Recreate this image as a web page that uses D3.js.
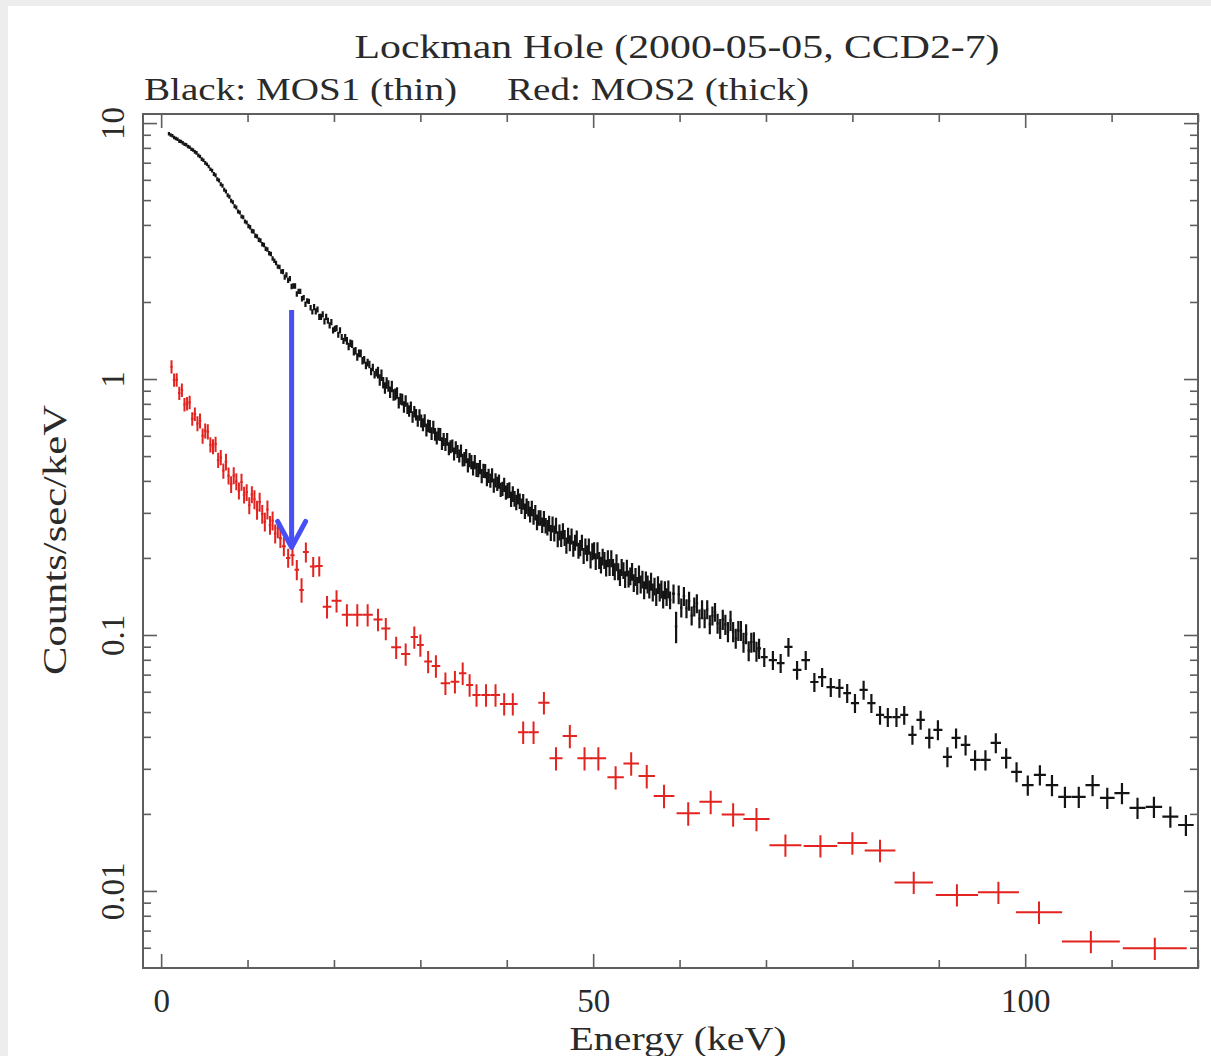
<!DOCTYPE html>
<html>
<head>
<meta charset="utf-8">
<script src="https://cdn.jsdelivr.net/npm/d3@7"></script>
<style>
  html, body { margin: 0; padding: 0; background: #ededed; }
  svg { display: block; }
</style>
</head>
<body>
<svg id="chart" width="1211" height="1056"></svg>
<script>
// MOS1 (thin filter): bin centres in keV
const mos1Energy = [
  0.9,1.1,1.3,1.5,1.7,1.9,2.1,2.3,2.5,2.7,2.9,3.1,3.3,3.5,3.7,3.9,4.1,4.3,4.5,4.7,4.9,5.1,5.3,5.5,5.7,5.9,6.1,6.3,6.5,6.7,6.9,7.1,7.3,7.5,7.7,7.9,
  8.1,8.3,8.5,8.7,8.9,9.1,9.3,9.5,9.7,9.9,10.1,10.3,10.5,10.7,10.9,11.1,11.3,11.5,11.7,11.9,12.1,12.3,12.5,12.7,12.9,13.1,13.3,13.5,13.7,13.9,
  14.1,14.3,14.5,14.7,14.9,15.1,15.3,15.5,15.7,15.9,16.1,16.3,16.5,16.7,16.9,17.1,17.3,17.5,17.7,17.9,18.1,18.3,18.5,18.7,18.9,19.1,19.3,19.5,19.7,19.9,
  20.1,20.3,20.5,20.7,20.9,21.1,21.3,21.5,21.7,21.9,22.1,22.3,22.5,22.7,22.9,23.1,23.3,23.5,23.7,23.9,24.1,24.3,24.5,24.7,24.9,
  25.1,25.3,25.5,25.7,25.9,26.1,26.3,26.5,26.7,26.9,27.1,27.3,27.5,27.7,27.9,28.1,28.3,28.5,28.7,28.9,
  29.1,29.3,29.5,29.7,29.9,30.1,30.3,30.5,30.7,30.9,31.1,31.3,31.5,31.7,31.9,32.1,32.3,32.5,32.7,32.9,
  33.1,33.3,33.5,33.7,33.9,34.1,34.3,34.5,34.7,34.9,35.1,35.3,35.5,35.7,35.9,36.1,36.3,36.5,36.7,36.9,
  37.1,37.3,37.5,37.7,37.9,38.1,38.3,38.5,38.7,38.9,39.1,39.3,39.5,39.7,39.9,40.1,40.3,40.5,40.7,40.9,
  41.1,41.3,41.5,41.7,41.9,42.1,42.3,42.5,42.7,42.9,43.1,43.3,43.5,43.7,43.9,44.1,44.3,44.5,44.7,44.9,
  45.1,45.3,45.5,45.7,45.9,46.1,46.3,46.5,46.7,46.9,47.1,47.3,47.5,47.7,47.9,48.1,48.3,48.5,48.7,48.9,
  49.1,49.3,49.5,49.7,49.9,50.1,50.3,50.5,50.7,50.9,51.1,51.3,51.5,51.7,51.9,52.1,52.3,52.5,52.7,52.9,
  53.1,53.3,53.5,53.7,53.9,54.1,54.3,54.5,54.7,54.9,55.1,55.3,55.5,55.7,55.9,56.1,56.3,56.5,56.7,56.9,
  57.1,57.3,57.5,57.7,57.9,58.1,58.3,58.5,58.7,58.9,
  59.3,59.6,59.9,60.2,60.5,60.8,61.1,61.4,61.7,62.0,62.3,62.6,62.9,63.2,63.5,63.8,64.1,64.4,64.7,65.0,65.3,65.6,65.9,66.2,66.5,66.8,67.1,67.4,67.7,68.0,68.3,68.6,68.9,69.2,
  69.8,70.8,71.7,72.6,73.6,74.6,75.6,76.5,77.5,78.5,79.4,80.3,81.3,82.2,83.2,84.1,85.1,86.0,86.95,87.9,88.9,89.9,91.0,92.0,93.1,94.2,95.4,96.6,97.8,99.0,100.3,101.7,103.1,104.6,106.2,107.8,109.5,111.2,113.0,114.9,116.8,118.6
];
// MOS1 count rate, counts/sec/keV
const mos1Rate = [
  9.08,8.99,8.93,8.78,8.71,8.64,8.50,8.47,8.37,8.27,8.23,8.10,8.04,7.90,7.85,7.72,7.65,7.48,7.40,7.23,7.16,6.99,6.90,6.77,6.60,6.52,6.33,6.25,6.04,5.96,5.77,5.69,5.49,5.41,5.22,5.15,
  4.97,4.91,4.73,4.68,4.51,4.47,4.32,4.29,4.13,4.09,3.96,3.92,3.79,3.77,3.63,3.61,3.50,3.48,3.36,3.34,3.23,3.21,3.10,3.08,2.96,2.90,2.84,2.75,2.74,2.63,
  2.63,2.50,2.55,2.43,2.47,2.30,2.31,2.31,2.15,2.20,2.20,2.06,2.08,1.96,2.02,2.01,1.90,1.83,1.91,1.84,1.87,1.75,1.75,1.79,1.68,1.75,1.69,1.62,1.67,1.55,
  1.57,1.58,1.49,1.55,1.46,1.41,1.45,1.41,1.34,1.38,1.37,1.28,1.29,1.22,1.26,1.26,1.18,1.19,1.13,1.16,1.14,1.07,1.11,1.04,1.06,
  1.061,0.993,1.036,0.969,0.924,0.966,0.941,0.889,0.937,0.868,0.872,0.883,0.809,0.837,0.832,0.779,0.822,0.770,0.751,0.777,
  0.712,0.746,0.726,0.687,0.725,0.687,0.664,0.688,0.633,0.657,0.654,0.613,0.649,0.609,0.589,0.610,0.608,0.560,0.581,0.556,
  0.582,0.535,0.545,0.549,0.510,0.540,0.522,0.501,0.525,0.483,0.487,0.501,0.461,0.483,0.474,0.449,0.475,0.443,0.442,0.454,
  0.418,0.439,0.438,0.407,0.419,0.402,0.421,0.384,0.403,0.390,0.398,0.370,0.373,0.387,0.361,0.367,0.369,0.340,0.356,0.341,
  0.330,0.348,0.334,0.319,0.332,0.305,0.319,0.312,0.296,0.313,0.290,0.301,0.276,0.287,0.287,0.269,0.285,0.268,0.263,0.273,
  0.251,0.271,0.250,0.268,0.237,0.252,0.238,0.255,0.240,0.224,0.245,0.229,0.243,0.218,0.230,0.239,0.214,0.219,0.230,0.204,
  0.222,0.209,0.222,0.197,0.212,0.214,0.194,0.214,0.196,0.188,0.202,0.196,0.183,0.199,0.184,0.199,0.184,0.177,0.192,0.177,
  0.168,0.184,0.179,0.165,0.183,0.166,0.170,0.177,0.160,0.169,0.156,0.173,0.158,0.165,0.150,0.164,0.158,0.151,0.162,0.147,
  0.155,0.141,0.157,0.147,0.151,0.138,0.150,0.141,0.151,0.137,
  0.145,0.108,0.144,0.128,0.142,0.127,0.136,0.119,0.129,0.133,0.116,0.126,0.116,0.126,0.110,0.119,0.123,0.111,0.106,0.115,0.110,0.103,0.114,0.103,0.0970,0.104,0.104,0.0936,0.101,0.0868,0.0937,0.0940,0.0864,0.0886,
  0.0820,0.0798,0.0777,0.0898,0.0730,0.0798,0.0655,0.0685,0.0626,0.0621,0.0593,0.0542,0.0610,0.0542,0.0487,0.0478,0.0478,0.0487,0.0407,0.0466,0.0396,0.0426,0.0334,0.0396,0.0372,0.0325,0.0325,0.0379,0.0331,0.0292,0.0259,0.0284,0.0259,0.0233,0.0233,0.0259,0.0231,0.0241,0.0211,0.0213,0.0195,0.0181
];
// MOS1 1-sigma errors, as a fraction of the rate
const mos1RelErr = [
  0.016,0.016,0.016,0.016,0.016,0.016,0.016,0.016,0.016,0.016,0.016,0.016,0.016,0.016,0.016,0.016,0.016,0.016,0.016,0.016,0.016,0.016,0.016,0.016,0.016,0.016,
  0.018,0.018,0.018,0.018,0.018,0.018,0.018,0.018,0.018,0.018,0.018,0.018,0.018,0.018,0.018,0.018,0.018,0.018,0.018,0.018,
  0.020,0.020,0.020,0.020,0.020,0.020,0.020,0.020,0.020,0.020,0.020,0.020,0.020,0.020,0.020,0.020,0.020,0.020,0.020,0.020,
  0.024,0.024,0.024,0.024,0.024,0.024,0.024,0.024,0.024,0.024,0.024,0.024,0.024,0.024,0.024,0.024,0.024,0.024,
  0.028,0.028,0.028,0.028,0.028,0.028,0.028,0.028,0.028,0.028,0.028,0.028,0.028,0.028,0.028,0.028,0.028,0.028,
  0.034,0.034,0.034,0.034,0.034,0.034,0.034,0.034,0.034,0.034,0.034,0.034,0.034,0.034,0.034,0.034,0.034,0.034,0.034,
  0.052,0.052,0.052,0.052,0.052,0.052,0.052,0.052,0.052,0.052,0.052,0.052,0.052,0.052,0.052,0.052,0.052,0.052,0.052,0.052,0.052,0.052,0.052,0.052,0.052,
  0.058,0.058,0.058,0.058,0.058,0.058,0.058,0.058,0.058,0.058,0.058,0.058,0.058,0.058,0.058,0.058,0.058,0.058,0.058,0.058,0.058,0.058,0.058,0.058,0.058,
  0.064,0.064,0.064,0.064,0.064,0.064,0.064,0.064,0.064,0.064,0.064,0.064,0.064,0.064,0.064,0.064,0.064,0.064,0.064,0.064,0.064,0.064,0.064,0.064,0.064,
  0.070,0.070,0.070,0.070,0.070,0.070,0.070,0.070,0.070,0.070,0.070,0.070,0.070,0.070,0.070,0.070,0.070,0.070,0.070,0.070,0.070,0.070,0.070,0.070,0.070,
  0.072,0.072,0.072,0.072,0.072,0.072,0.072,0.072,0.072,0.072,0.072,0.072,0.072,0.072,0.072,0.072,0.072,0.072,0.072,0.072,0.072,0.072,0.072,
  0.076,0.076,0.076,0.076,0.076,0.076,0.076,0.076,0.076,0.076,0.076,0.076,0.076,0.076,0.076,0.076,0.076,0.076,0.076,0.076,0.076,0.076,0.076,
  0.080,0.080,0.080,0.080,0.080,0.080,0.080,0.080,0.080,0.080,0.080,0.080,0.080,0.080,0.080,0.080,0.080,0.080,0.080,0.080,0.080,0.080,0.080,0.080,
  0.085,0.140,0.085,0.085,0.085,0.085,0.085,0.085,0.085,0.085,0.085,0.085,0.085,0.085,0.085,0.085,0.085,
  0.090,0.090,0.090,0.090,0.090,0.090,0.090,0.090,0.090,0.090,0.090,0.090,0.090,0.090,0.090,0.090,0.090,
  0.085,0.085,0.085,0.085,0.085,0.085,0.085,0.085,0.085,0.085,0.085,0.085,0.085,0.085,0.085,0.085,0.085,0.085,0.085,0.085,
  0.090,0.090,0.090,0.090,0.090,0.090,0.090,0.090,0.090,0.090,0.090,0.090,0.095,0.095,0.095,0.095,0.095,0.095,0.095,0.095,0.095,0.095
];

// MOS2 (thick filter): bin centres in keV
const mos2Energy = [
  1.2,1.5,1.8,2.1,2.4,2.7,3.0,3.3,3.6,3.9,4.2,4.5,4.8,5.1,5.4,5.7,6.0,6.3,6.6,6.9,7.2,7.5,7.8,8.1,8.4,8.7,9.0,9.3,9.6,9.9,10.2,10.5,10.8,11.1,11.4,11.7,12.0,12.3,12.6,12.9,13.2,13.5,13.8,
  14.2,14.7,15.2,15.7,16.25,16.75,17.6,18.3,19.2,20.3,21.5,22.7,23.9,25.1,26.0,27.2,28.3,29.3,30.0,30.9,31.8,32.9,34.0,34.9,35.7,36.5,37.6,38.7,39.7,40.7,41.9,43.1,44.3,
  45.7,47.3,49.0,50.6,52.6,54.4,56.2,58.2,61.0,63.6,66.2,68.9,72.25,76.3,80.0,83.2,87.1,92.1,96.9,101.6,107.6,115.0
];
// MOS2 count rate, counts/sec/keV
const mos2Rate = [
  1.118,0.992,0.993,0.881,0.906,0.795,0.802,0.811,0.699,0.730,0.670,0.687,0.600,0.628,0.623,0.554,0.545,0.557,0.482,0.494,0.438,0.475,0.419,0.388,0.420,0.398,0.366,0.396,0.353,0.361,0.321,0.354,0.339,0.308,0.331,0.297,0.277,0.309,0.269,0.280,0.249,0.261,0.239,
  0.222,0.200,0.205,0.180,0.150,0.211,0.185,0.186,0.129,0.136,0.120,0.120,0.120,0.115,0.106,0.0895,0.0843,0.0982,0.0914,0.0787,0.0757,0.0648,0.0657,0.0709,0.0638,0.0583,0.0583,0.0583,0.0538,0.0538,0.0417,0.0417,0.0544,
  0.0330,0.0403,0.0330,0.0330,0.0278,0.0315,0.0281,0.0235,0.0201,0.0223,0.0199,0.0191,0.0151,0.0150,0.0154,0.0144,0.0108,0.00965,0.00988,0.00826,0.00634,0.00597
];
// MOS2 1-sigma errors, as a fraction of the rate
const mos2RelErr = [
  0.060,0.060,0.060,0.060,0.060,0.060,0.060,0.060,0.060,0.060,0.068,0.068,0.068,0.068,0.068,0.068,0.068,0.068,0.068,0.068,0.068,
  0.076,0.076,0.076,0.076,0.076,0.076,0.076,0.076,0.076,0.076,0.076,0.085,0.085,0.085,0.085,0.085,0.085,0.085,0.085,0.085,0.085,0.085,
  0.085,0.085,0.090,0.090,0.110,0.090,0.090,0.090,
  0.100,0.100,0.100,0.100,0.100,0.100,0.100,0.100,0.100,0.100,0.100,0.100,0.100,0.100,0.100,0.100,0.100,0.100,0.100,0.100,0.100,0.100,0.100,0.100,0.100,
  0.105,0.105,0.105,0.105,0.105,0.105,0.105,0.105,0.105,0.105,0.105,0.105,
  0.100,0.100,0.100,0.100,0.100,0.100,0.100,0.100,0.100,0.100
];

// Axis ticks and labels
const xMajorTicks = [0, 50, 100];
const xMinorTicks = [10, 20, 30, 40, 60, 70, 80, 90, 110, 120];
const yMajorTicks = [0.01, 0.1, 1, 10];
const yTickLabels = ["0.01", "0.1", "1", "10"];
const yMinorTicks = [0.006, 0.007, 0.008, 0.009,
  0.02, 0.03, 0.04, 0.05, 0.06, 0.07, 0.08, 0.09,
  0.2, 0.3, 0.4, 0.5, 0.6, 0.7, 0.8, 0.9,
  2, 3, 4, 5, 6, 7, 8, 9];

const titleText = "Lockman Hole (2000-05-05, CCD2-7)";
const subtitleLeft = "Black: MOS1 (thin)";
const subtitleRight = "Red: MOS2 (thick)";
const xAxisTitle = "Energy (keV)";
const yAxisTitle = "Counts/sec/keV";

// Marked energy: arrow from the MOS1 curve down to the MOS2 curve
const arrowEnergy = 15.1;
const arrowFrom = 1.86;
const arrowTo = 0.22;

// ---------------------------------------------------------------
const W = 1211, H = 1056;
const frame = { left: 143, right: 1198, top: 114, bottom: 968 };
const FONT = "'Liberation Serif', 'DejaVu Serif', serif";
const INK = "#2a2a2a";
const AXIS = "#5e5e5e";

const svg = d3.select("#chart");

// paper
svg.append("rect").attr("x", 8).attr("y", 6).attr("width", W - 8).attr("height", H - 6).attr("fill", "#ffffff");

const x = d3.scaleLinear().domain([-2.1, 120]).range([frame.left, frame.right]);
const y = d3.scaleLog().domain([0.005, 10.85]).range([frame.bottom, frame.top]);

svg.append("clipPath").attr("id", "plotClip")
  .append("rect")
  .attr("x", frame.left).attr("y", frame.top)
  .attr("width", frame.right - frame.left).attr("height", frame.bottom - frame.top);

// bin half-widths: contiguous bins, half the distance to the neighbouring centres
function halfWidths(e) {
  return e.map((v, i) => {
    const l = i > 0 ? v - e[i - 1] : e[i + 1] - v;
    const r = i < e.length - 1 ? e[i + 1] - v : v - e[i - 1];
    return (l + r) / 4;
  });
}

function drawSpectrum(energy, rate, relErr, color, width) {
  const hw = halfWidths(energy);
  const pts = energy.map((e, i) => ({ e, r: rate[i], s: rate[i] * relErr[i], hw: hw[i] }));
  svg.append("g")
    .attr("clip-path", "url(#plotClip)")
    .attr("fill", "none")
    .attr("stroke", color)
    .attr("stroke-width", width)
    .selectAll("path")
    .data(pts)
    .join("path")
    .attr("d", d =>
      `M${x(d.e - d.hw)},${y(d.r)}H${x(d.e + d.hw)}` +
      `M${x(d.e)},${y(d.r - d.s)}V${y(d.r + d.s)}`);
}

drawSpectrum(mos2Energy, mos2Rate, mos2RelErr, "#e3231f", 2.0);
drawSpectrum(mos1Energy, mos1Rate, mos1RelErr, "#141414", 2.2);

// ticks on all four sides, pointing inward
function styleTicks(g) {
  g.select(".domain").remove();
  g.selectAll(".tick line").attr("stroke", AXIS).attr("stroke-width", 1.6);
}

svg.append("g").attr("transform", `translate(0,${frame.bottom})`)
  .call(d3.axisBottom(x).tickValues(xMajorTicks).tickSize(-14).tickFormat(d => String(d)))
  .call(styleTicks)
  .call(g => g.selectAll(".tick text")
    .attr("y", 44).attr("dy", null)
    .attr("font-family", FONT).attr("font-size", 33).attr("fill", INK));
svg.append("g").attr("transform", `translate(0,${frame.bottom})`)
  .call(d3.axisBottom(x).tickValues(xMinorTicks).tickSize(-8).tickFormat(""))
  .call(styleTicks);
svg.append("g").attr("transform", `translate(0,${frame.top})`)
  .call(d3.axisTop(x).tickValues(xMajorTicks).tickSize(-14).tickFormat(""))
  .call(styleTicks);
svg.append("g").attr("transform", `translate(0,${frame.top})`)
  .call(d3.axisTop(x).tickValues(xMinorTicks).tickSize(-8).tickFormat(""))
  .call(styleTicks);

svg.append("g").attr("transform", `translate(${frame.left},0)`)
  .call(d3.axisLeft(y).tickValues(yMajorTicks).tickSize(-14)
    .tickFormat(d => yTickLabels[yMajorTicks.indexOf(d)]))
  .call(styleTicks)
  .call(g => g.selectAll(".tick text")
    .attr("x", 0).attr("y", 0).attr("dy", "0.35em")
    .attr("transform", "translate(-31,0) rotate(-90)")
    .attr("text-anchor", "middle")
    .attr("font-family", FONT).attr("font-size", 33).attr("fill", INK));
svg.append("g").attr("transform", `translate(${frame.left},0)`)
  .call(d3.axisLeft(y).tickValues(yMinorTicks).tickSize(-8).tickFormat(""))
  .call(styleTicks);
svg.append("g").attr("transform", `translate(${frame.right},0)`)
  .call(d3.axisRight(y).tickValues(yMajorTicks).tickSize(-14).tickFormat(""))
  .call(styleTicks);
svg.append("g").attr("transform", `translate(${frame.right},0)`)
  .call(d3.axisRight(y).tickValues(yMinorTicks).tickSize(-8).tickFormat(""))
  .call(styleTicks);

// frame
svg.append("rect")
  .attr("x", frame.left).attr("y", frame.top)
  .attr("width", frame.right - frame.left).attr("height", frame.bottom - frame.top)
  .attr("fill", "none").attr("stroke", AXIS).attr("stroke-width", 2);

// titles
function label(text, px, py, size, length, anchor, rotate) {
  const t = svg.append("text")
    .attr("font-family", FONT).attr("font-size", size).attr("fill", INK)
    .attr("text-anchor", anchor)
    .attr("textLength", length).attr("lengthAdjust", "spacingAndGlyphs")
    .text(text);
  if (rotate) t.attr("transform", `translate(${px},${py}) rotate(-90)`);
  else t.attr("x", px).attr("y", py);
  return t;
}
label(titleText, 677, 58, 33, 645, "middle");
label(subtitleLeft, 144, 100, 31, 313, "start");
label(subtitleRight, 507, 100, 31, 302, "start");
label(xAxisTitle, 678, 1050, 33, 217, "middle");
label(yAxisTitle, 66, 540, 33, 270, "middle", true);

// arrow marking the energy
const ax = x(arrowEnergy), ay0 = y(arrowFrom), ay1 = y(arrowTo);
const arrow = svg.append("g").attr("stroke", "#4650f4").attr("stroke-width", 5).attr("fill", "none");
arrow.append("line").attr("x1", ax).attr("x2", ax).attr("y1", ay0).attr("y2", ay1 - 2);
arrow.append("path")
  .attr("d", `M${ax - 14},${ay1 - 26}L${ax},${ay1}L${ax + 14},${ay1 - 26}`)
  .attr("stroke-linecap", "round").attr("stroke-linejoin", "round");
</script>
</body>
</html>
